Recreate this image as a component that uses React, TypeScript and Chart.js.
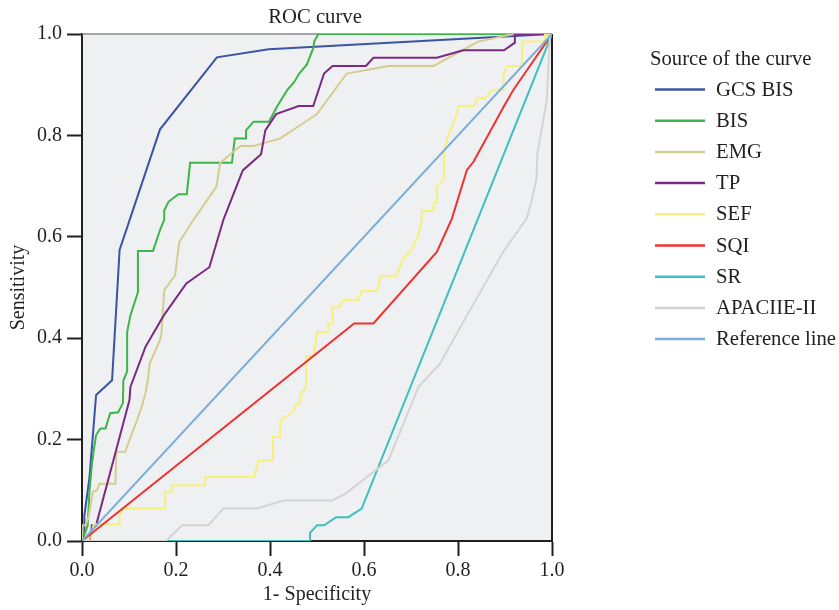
import React, { useEffect, useRef } from 'react';
import { Chart, registerables } from 'chart.js';

Chart.register(...registerables);

const FONT = '"Liberation Serif", "Times New Roman", serif';
const TEXT = '#231f20';

// ---- data ----
const chartTitle = 'ROC curve';
const legendTitle = 'Source of the curve';
const xAxisTitle = '1- Specificity';
const yAxisTitle = 'Sensitivity';
const tickValues = [0, 0.2, 0.4, 0.6, 0.8, 1.0];

const seriesNames = ['GCS BIS', 'BIS', 'EMG', 'TP', 'SEF', 'SQI', 'SR', 'APACIIE-II', 'Reference line'];

const gcsBisX = [0, 0.005, 0.005, 0.016, 0.03, 0.064, 0.08, 0.166, 0.287, 0.397, 1];
const gcsBisY = [0, 0.015, 0.05, 0.126, 0.288, 0.317, 0.574, 0.812, 0.954, 0.97, 1];

const bisX = [0, 0.012, 0.016, 0.021, 0.025, 0.030, 0.039, 0.05, 0.06, 0.077, 0.087, 0.088, 0.096, 0.096, 0.103, 0.119, 0.119, 0.151, 0.166, 0.175, 0.175, 0.184, 0.205, 0.223, 0.230, 0.319, 0.325, 0.349, 0.349, 0.365, 0.398, 0.415, 0.437, 0.452, 0.462, 0.478, 0.492, 0.494, 0.503, 1];
const bisY = [0, 0.03, 0.1, 0.15, 0.179, 0.209, 0.222, 0.222, 0.252, 0.254, 0.272, 0.317, 0.334, 0.412, 0.445, 0.491, 0.572, 0.572, 0.613, 0.634, 0.652, 0.669, 0.684, 0.684, 0.746, 0.746, 0.794, 0.794, 0.81, 0.827, 0.827, 0.857, 0.89, 0.906, 0.922, 0.939, 0.972, 0.985, 1.0, 1];

const emgX = [0, 0, 0.008, 0.014, 0.023, 0.032, 0.037, 0.071, 0.073, 0.092, 0.105, 0.117, 0.128, 0.135, 0.14, 0.144, 0.166, 0.169, 0.175, 0.198, 0.207, 0.237, 0.286, 0.294, 0.337, 0.365, 0.422, 0.464, 0.5, 0.563, 0.652, 0.748, 0.843, 0.918, 1];
const emgY = [0, 0.031, 0.031, 0.047, 0.097, 0.1, 0.113, 0.113, 0.176, 0.176, 0.209, 0.238, 0.268, 0.291, 0.317, 0.35, 0.396, 0.409, 0.495, 0.524, 0.59, 0.633, 0.699, 0.746, 0.779, 0.779, 0.794, 0.82, 0.842, 0.922, 0.937, 0.937, 0.985, 1.0, 1];

const tpX = [0, 0.018, 0.021, 0.03, 0.101, 0.103, 0.135, 0.174, 0.222, 0.271, 0.301, 0.342, 0.381, 0.39, 0.413, 0.461, 0.492, 0.515, 0.533, 0.604, 0.62, 0.755, 0.811, 0.898, 0.921, 0.921, 1];
const tpY = [0, 0, 0.031, 0.031, 0.278, 0.304, 0.383, 0.445, 0.508, 0.54, 0.634, 0.731, 0.763, 0.81, 0.842, 0.858, 0.858, 0.922, 0.937, 0.937, 0.953, 0.953, 0.968, 0.968, 0.983, 1.0, 1];

const sefX = [0, 0.02, 0.02, 0.025, 0.08, 0.08, 0.088, 0.177, 0.177, 0.191, 0.191, 0.262, 0.262, 0.366, 0.376, 0.406, 0.406, 0.422, 0.422, 0.45, 0.454, 0.463, 0.464, 0.477, 0.477, 0.493, 0.5, 0.524, 0.524, 0.533, 0.533, 0.548, 0.556, 0.588, 0.595, 0.628, 0.636, 0.668, 0.684, 0.698, 0.716, 0.723, 0.723, 0.748, 0.748, 0.755, 0.755, 0.77, 0.77, 0.779, 0.792, 0.802, 0.834, 0.841, 0.858, 0.874, 0.897, 0.897, 0.905, 0.936, 0.937, 0.983, 0.985, 1];
const sefY = [0, 0, 0.016, 0.033, 0.033, 0.05, 0.064, 0.064, 0.097, 0.097, 0.11, 0.11, 0.126, 0.126, 0.159, 0.159, 0.205, 0.205, 0.238, 0.255, 0.268, 0.271, 0.288, 0.304, 0.365, 0.365, 0.412, 0.412, 0.429, 0.429, 0.461, 0.461, 0.476, 0.476, 0.493, 0.493, 0.523, 0.523, 0.557, 0.57, 0.603, 0.633, 0.651, 0.651, 0.667, 0.667, 0.699, 0.715, 0.767, 0.8, 0.827, 0.858, 0.858, 0.874, 0.874, 0.89, 0.89, 0.92, 0.937, 0.937, 0.985, 0.985, 1.0, 1];

const sqiX = [0, 0.579, 0.62, 0.755, 0.787, 0.819, 0.833, 0.898, 0.918, 1];
const sqiY = [0, 0.429, 0.429, 0.57, 0.636, 0.732, 0.748, 0.858, 0.89, 1];

const srX = [0, 0.485, 0.485, 0.5, 0.515, 0.541, 0.567, 0.595, 1];
const srY = [0, 0, 0.016, 0.031, 0.031, 0.047, 0.047, 0.064, 1];

const apacheX = [0, 0.179, 0.213, 0.269, 0.301, 0.372, 0.429, 0.532, 0.56, 0.652, 0.716, 0.762, 0.819, 0.896, 0.946, 0.957, 0.967, 0.969, 0.989, 0.992, 0.996, 1];
const apacheY = [0, 0, 0.031, 0.031, 0.064, 0.064, 0.08, 0.08, 0.093, 0.159, 0.304, 0.35, 0.445, 0.57, 0.636, 0.672, 0.715, 0.765, 0.87, 0.929, 1.0, 1];

const refX = [0, 1];
const refY = [0, 1];

const seriesX = [gcsBisX, bisX, emgX, tpX, sefX, sqiX, srX, apacheX, refX];
const seriesY = [gcsBisY, bisY, emgY, tpY, sefY, sqiY, srY, apacheY, refY];

// ---- styles ----
const seriesColors = ['#3a54a4', '#3cb54a', '#d5cd8f', '#7b2a82', '#f6f07a', '#ee3232', '#3dc0be', '#d4d4d4', '#7aaed9'];

const areaPlugin = {
  id: 'areaPlugin',
  beforeDraw(chart: any) {
    const { ctx, chartArea: a } = chart;
    ctx.save();
    ctx.fillStyle = '#eff0f2';
    ctx.fillRect(a.left, a.top, a.right - a.left, a.bottom - a.top);
    ctx.restore();
  },
  beforeDatasetsDraw(chart: any) {
    const { ctx, chartArea: a } = chart;
    ctx.save();
    ctx.strokeStyle = '#8a8a8a';
    ctx.lineWidth = 1.5;
    ctx.beginPath();
    ctx.moveTo(a.left, a.top);
    ctx.lineTo(a.right, a.top);
    ctx.stroke();
    ctx.strokeStyle = TEXT;
    ctx.lineWidth = 2;
    ctx.beginPath();
    ctx.moveTo(a.right, a.top);
    ctx.lineTo(a.right, a.bottom);
    ctx.stroke();
    ctx.restore();
  },
  afterDraw(chart: any) {
    const { ctx, chartArea: a } = chart;
    ctx.save();
    ctx.font = `20.7px ${FONT}`;
    ctx.fillStyle = TEXT;
    ctx.textBaseline = 'alphabetic';
    ctx.textAlign = 'center';
    ctx.fillText(chartTitle, (a.left + a.right) / 2 - 2, 23);
    ctx.textAlign = 'left';
    const lx = a.right + 98;
    ctx.fillText(legendTitle, lx, 65);
    chart.data.datasets.forEach((ds: any, i: number) => {
      const y = 89.5 + i * 31.2;
      ctx.strokeStyle = ds.borderColor;
      ctx.lineWidth = 2.5;
      ctx.beginPath();
      ctx.moveTo(lx + 5, y);
      ctx.lineTo(lx + 55, y);
      ctx.stroke();
      ctx.fillText(ds.label, lx + 66, y + 6);
    });
    ctx.restore();
  },
};

export default function App() {
  const ref = useRef<HTMLCanvasElement>(null);
  useEffect(() => {
    document.body.style.margin = '0';
    document.body.style.overflow = 'hidden';
    const datasets = seriesNames.map((name, i) => ({
      label: name,
      data: seriesX[i].map((x, j) => ({ x, y: seriesY[i][j] })),
      borderColor: seriesColors[i],
      backgroundColor: seriesColors[i],
      borderWidth: 2,
      pointRadius: 0,
      pointHoverRadius: 0,
      tension: 0,
      fill: false,
      order: -i,
    }));
    const tickFont = { family: FONT, size: 20 };
    const chart = new Chart(ref.current as HTMLCanvasElement, {
      type: 'line',
      data: { datasets } as any,
      plugins: [areaPlugin],
      options: {
        responsive: false,
        animation: false,
        devicePixelRatio: 1,
        layout: { padding: { top: 34, right: 287, left: 0, bottom: 0 } },
        plugins: { legend: { display: false }, title: { display: false }, tooltip: { enabled: false } },
        scales: {
          x: {
            type: 'linear',
            min: 0,
            max: 1,
            afterFit: (s: any) => { s.height = 69; },
            afterBuildTicks: (s: any) => { s.ticks = tickValues.map((v) => ({ value: v })); },
            ticks: { callback: (v: any) => Number(v).toFixed(1), font: tickFont, color: TEXT, padding: 3, maxRotation: 0, autoSkip: false },
            grid: { drawOnChartArea: false, drawTicks: true, tickLength: 15, tickColor: TEXT, tickWidth: 2 },
            border: { display: true, color: TEXT, width: 2 },
            title: { display: true, text: xAxisTitle, font: tickFont, color: TEXT, padding: { top: 0, bottom: 3 } },
          },
          y: {
            type: 'linear',
            min: 0,
            max: 1,
            afterFit: (s: any) => { s.width = 82; },
            afterBuildTicks: (s: any) => { s.ticks = tickValues.map((v) => ({ value: v })); },
            ticks: { callback: (v: any) => Number(v).toFixed(1), font: tickFont, color: TEXT, padding: 5, autoSkip: false },
            grid: { drawOnChartArea: false, drawTicks: true, tickLength: 15, tickColor: TEXT, tickWidth: 2 },
            border: { display: true, color: TEXT, width: 2 },
            title: { display: true, text: yAxisTitle, font: tickFont, color: TEXT, padding: { top: 7, bottom: 0 } },
          },
        },
      } as any,
    });
    return () => chart.destroy();
  }, []);
  return (
    <div style={{ width: 839, height: 610 }}>
      <canvas ref={ref} width={839} height={610} style={{ display: 'block' }} />
    </div>
  );
}
